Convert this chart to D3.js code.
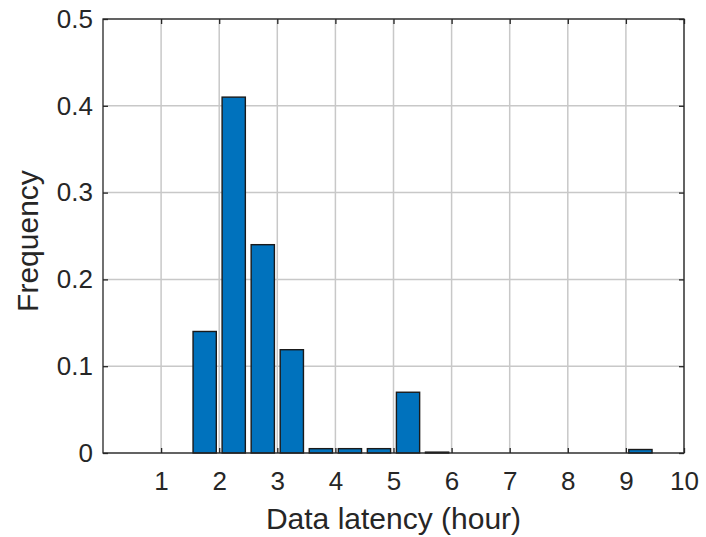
<!DOCTYPE html>
<html>
<head>
<meta charset="utf-8">
<script src="https://cdn.jsdelivr.net/npm/d3@7"></script>
<style>
  html, body { margin: 0; padding: 0; background: #fff; }
  svg { display: block; }
  text { font-family: "Liberation Sans", Arial, Helvetica, sans-serif; fill: #262626; }
</style>
</head>
<body>
<svg id="chart" width="706" height="537"></svg>
<script>
// Histogram of data latency: bin centres (hours) and relative frequencies
const binCenters = [1.75, 2.25, 2.75, 3.25, 3.75, 4.25, 4.75, 5.25, 5.75, 6.25, 6.75, 7.25, 7.75, 8.25, 8.75, 9.25, 9.75];
const frequencies = [0.14, 0.41, 0.24, 0.119, 0.005, 0.005, 0.005, 0.07, 0.001, 0, 0, 0, 0, 0, 0, 0.004, 0];
const xTicks = [1, 2, 3, 4, 5, 6, 7, 8, 9, 10];
const yTicks = [0, 0.1, 0.2, 0.3, 0.4, 0.5];
const binWidth = 0.5;
const barFraction = 0.8;
const xLabel = "Data latency (hour)";
const yLabel = "Frequency";

const svg = d3.select("#chart");
const plotLeft = 103, plotRight = 684, plotTop = 19, plotBottom = 453;
const x = d3.scaleLinear().domain([0, 10]).range([plotLeft, plotRight]);
const y = d3.scaleLinear().domain([0, 0.5]).range([plotBottom, plotTop]);
const axisColor = "#262626";

// grid lines
const grid = svg.append("g");
grid.selectAll("line.gx").data(xTicks).join("line")
  .attr("class", "gx")
  .attr("x1", d => x(d)).attr("x2", d => x(d))
  .attr("y1", plotTop).attr("y2", plotBottom)
  .attr("stroke", "#c8c8c8").attr("stroke-width", 1.5);
grid.selectAll("line.gy").data(yTicks).join("line")
  .attr("class", "gy")
  .attr("y1", d => y(d)).attr("y2", d => y(d))
  .attr("x1", plotLeft).attr("x2", plotRight)
  .attr("stroke", "#c8c8c8").attr("stroke-width", 1.5);

// bars
const bars = binCenters.map((c, i) => ({ c, v: frequencies[i] })).filter(d => d.v > 0);
svg.append("g").selectAll("rect").data(bars).join("rect")
  .attr("x", d => x(d.c - binWidth * barFraction / 2))
  .attr("width", d => x(d.c + binWidth * barFraction / 2) - x(d.c - binWidth * barFraction / 2))
  .attr("y", d => y(d.v))
  .attr("height", d => y(0) - y(d.v))
  .attr("fill", "#0072BD")
  .attr("stroke", "#1a1a1a")
  .attr("stroke-width", 1.4);

// axes: bottom/left with labels, top/right mirrored ticks only, all ticks inward
const tickLen = 5;
const gx = svg.append("g").attr("transform", `translate(0,${plotBottom})`)
  .call(d3.axisBottom(x).tickValues(xTicks).tickSize(-tickLen).tickPadding(19).tickFormat(d3.format("d")));
const gy = svg.append("g").attr("transform", `translate(${plotLeft},0)`)
  .call(d3.axisLeft(y).tickValues(yTicks).tickSize(-tickLen).tickPadding(10).tickFormat(d => d === 0 ? "0" : d3.format(".1f")(d)));
const gt = svg.append("g").attr("transform", `translate(0,${plotTop})`)
  .call(d3.axisTop(x).tickValues(xTicks).tickSize(-tickLen).tickFormat(""));
const gr = svg.append("g").attr("transform", `translate(${plotRight},0)`)
  .call(d3.axisRight(y).tickValues(yTicks).tickSize(-tickLen).tickFormat(""));

[gx, gy, gt, gr].forEach(g => {
  g.select(".domain").remove();
  g.selectAll(".tick line").attr("stroke", axisColor).attr("stroke-width", 1.3);
  g.selectAll(".tick text").attr("fill", axisColor)
    .style("font-size", "26px").style("font-family", "'Liberation Sans', Arial, sans-serif");
});

// axes box
svg.append("rect")
  .attr("x", plotLeft).attr("y", plotTop)
  .attr("width", plotRight - plotLeft).attr("height", plotBottom - plotTop)
  .attr("fill", "none").attr("stroke", axisColor).attr("stroke-width", 1.3);

// axis titles
svg.append("text")
  .attr("x", (plotLeft + plotRight) / 2).attr("y", 529)
  .attr("text-anchor", "middle")
  .style("font-size", "30px")
  .text(xLabel);
svg.append("text")
  .attr("transform", `translate(38,${(plotTop + plotBottom) / 2 + 5}) rotate(-90)`)
  .attr("text-anchor", "middle")
  .style("font-size", "30px")
  .text(yLabel);
</script>
</body>
</html>
